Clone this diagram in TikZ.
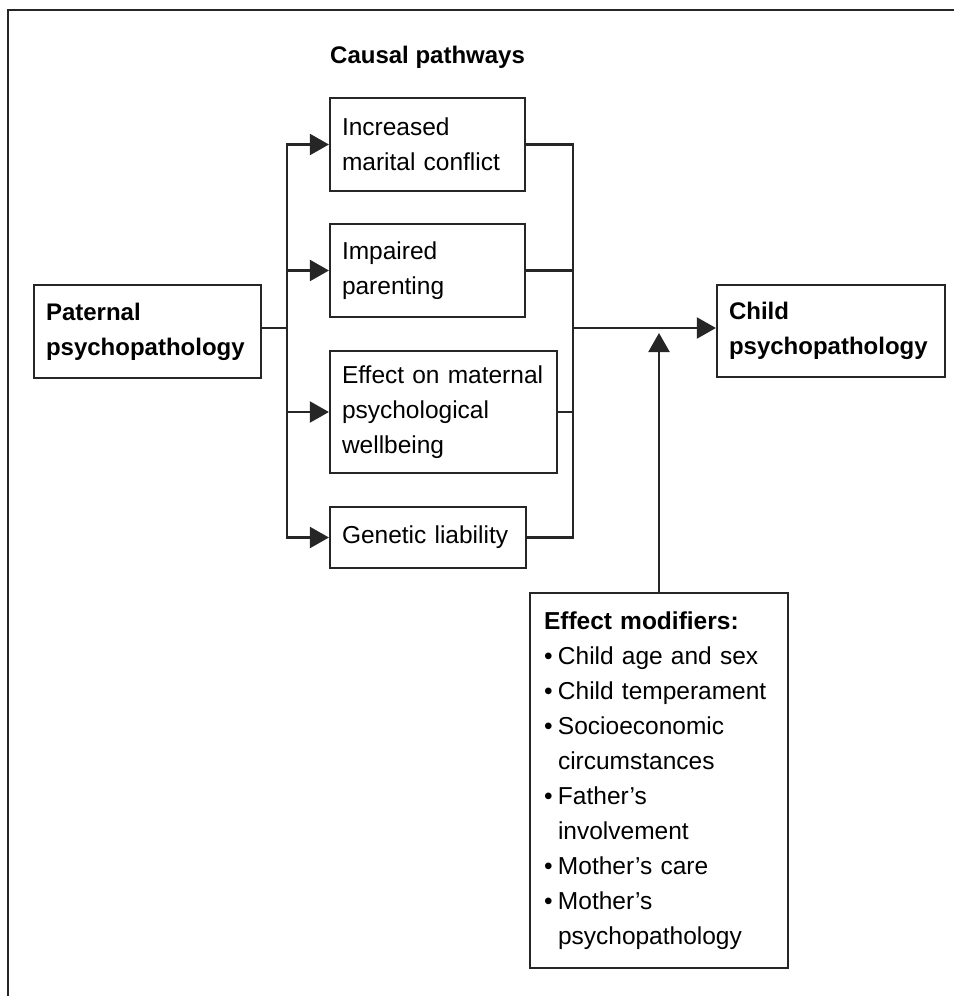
\documentclass[tikz,border=0pt]{standalone}
\usepackage{fontspec}
\setmainfont{Liberation Sans}
\usetikzlibrary{arrows.meta}

\hyphenpenalty=10000
\exhyphenpenalty=10000

\newcommand{\modbullet}{\makebox[14pt][l]{\textbullet}}
\newcommand{\modindent}{\hspace*{14pt}}

\tikzset{
  box/.style={draw=black!85, line width=2.2pt, align=left, inner xsep=12pt, inner ysep=0pt},
  bold/.style={font=\fontsize{24}{35}\selectfont\bfseries},
  link/.style={draw=black!85, line width=2.2pt},
  arr/.style={link, -{Triangle[length=19pt,width=21pt]}},
}

\begin{document}
\begin{tikzpicture}[x=1pt,y=-1pt,font=\fontsize{24.5}{35}\selectfont]

\useasboundingbox (0,0) rectangle (954,996);

% frame
\draw[link, line width=2.5pt] (8,996) -- (8,10) -- (954,10);

\node[bold, anchor=base west, inner sep=0pt] (title) at (330,63) {Causal pathways};

\node[box, bold, text width=203pt, minimum height=93pt] (paternal) at (147.5,331.5) {Paternal\\psychopathology};

\node[box, text width=171pt, minimum height=93pt] (marital) at (427.5,144.5) {Increased\\marital conflict};

\node[box, text width=171pt, minimum height=93pt] (parenting) at (427.5,270.5) {Impaired\\parenting};

\node[box, text width=203pt, minimum height=122pt] (maternal) at (443.5,412) {Effect on maternal\\psychological\\wellbeing};

\node[box, text width=172pt, minimum height=61pt] (genetic) at (428,537.5) {Genetic liability};

\node[box, bold, text width=204pt, minimum height=92pt] (child) at (831,331) {Child\\psychopathology};

\node[box, inner xsep=14pt, text width=230pt, minimum height=375pt] (modifier) at (659,780.5) {\textbf{Effect modifiers:}\\
\modbullet Child age and sex\\
\modbullet Child temperament\\
\modbullet Socioeconomic\\
\modindent circumstances\\
\modbullet Father’s\\
\modindent involvement\\
\modbullet Mother’s care\\
\modbullet Mother’s\\
\modindent psychopathology};

\coordinate (split) at (287,328);
\coordinate (join) at (573,328);
\coordinate (mod) at (659,333);

\draw[link] (paternal.east |- split) -- (split);
\draw[arr] (split) |- (marital.west);
\draw[arr] (split) |- (parenting.west);
\draw[arr] (split) |- (maternal.west);
\draw[arr] (split) |- (genetic.west);

\draw[link] (marital.east) -| (join);
\draw[link] (parenting.east) -| (join);
\draw[link] (maternal.east) -| (join);
\draw[link] (genetic.east) -| (join);
\draw[arr] (join) -- (child.west |- join);
\draw[arr] (modifier.north) -- (mod);

\end{tikzpicture}
\end{document}
